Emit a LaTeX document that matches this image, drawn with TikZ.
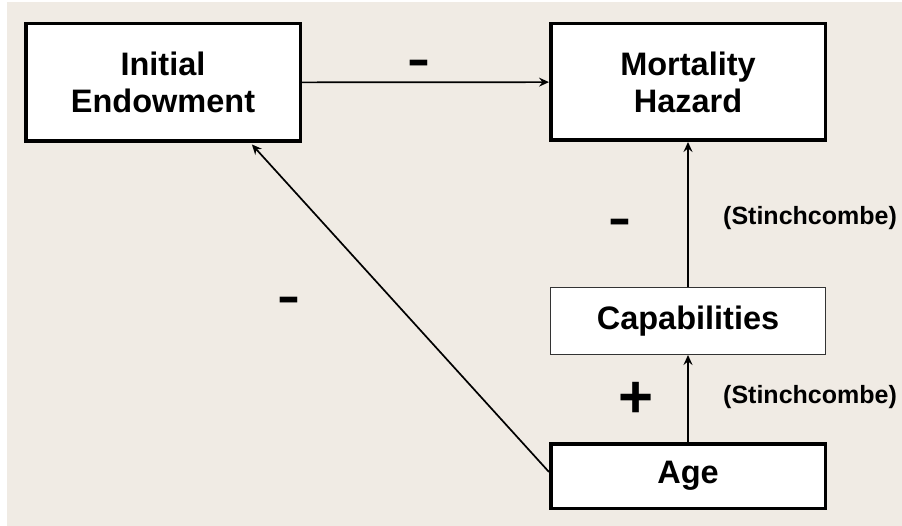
\documentclass[tikz,border=0pt]{standalone}
\usepackage{fontspec}
\setmainfont{Liberation Sans}
\usetikzlibrary{arrows.meta,calc}
\definecolor{bgbeige}{RGB}{240,235,228}
\tikzset{
  thickbox/.style={draw=black, line width=3.5pt, fill=white, rectangle, align=center,
    font=\fontsize{32.5}{37}\selectfont\bfseries, inner sep=0pt},
  thinbox/.style={draw=black!80, line width=1pt, fill=white, rectangle, align=center,
    font=\fontsize{32.5}{37}\selectfont\bfseries, inner sep=0pt},
  arr/.style={line width=1.7pt, -{Stealth[length=10pt,width=9pt,inset=3.5pt]}},
  sign/.style={font=\fontsize{60}{60}\selectfont\bfseries, inner sep=0pt},
  minus/.style={sign, xscale=1.15, yscale=0.8},
  cite/.style={font=\fontsize{25}{29}\selectfont\bfseries, inner sep=0pt, anchor=west}
}
\begin{document}
\begin{tikzpicture}[x=1pt,y=-1pt]
\useasboundingbox (0,0) rectangle (902,526);
\fill[white] (0,0) rectangle (902,526);
\fill[bgbeige] (7,2) rectangle (902,526);
\node[thickbox, minimum width=274.5pt, minimum height=117.5pt] (ie) at (163,82.5) {Initial\\Endowment};
\node[thickbox, minimum width=274.5pt, minimum height=116.5pt] (mh) at (688,82) {Mortality\\Hazard};
\node[thinbox, minimum width=275pt, minimum height=67pt] (cap) at (688,321) {Capabilities};
\node[thickbox, minimum width=274.5pt, minimum height=64.5pt] (age) at (688,476) {Age};
\coordinate (ietip) at ($(ie.south west)!0.815!(ie.south east)$);
\draw[arr] (ie) -- (mh);
\draw[arr] (cap.north) -- (mh.south);
\draw[arr] (age.north) -- (cap.south);
\draw[arr, shorten >=2pt] ($(age.west)+(0,-4)$) -- (ietip);
\node[minus] (m1) at (418.5,68) {-};
\node[minus] (m2) at (619.5,227) {-};
\node[minus] (m3) at (288.5,305) {-};
\node[sign] (p1) at (636,400) {+};
\node[cite] (c1) at (723,218) {(Stinchcombe)};
\node[cite] (c2) at (723,397) {(Stinchcombe)};
\end{tikzpicture}
\end{document}
